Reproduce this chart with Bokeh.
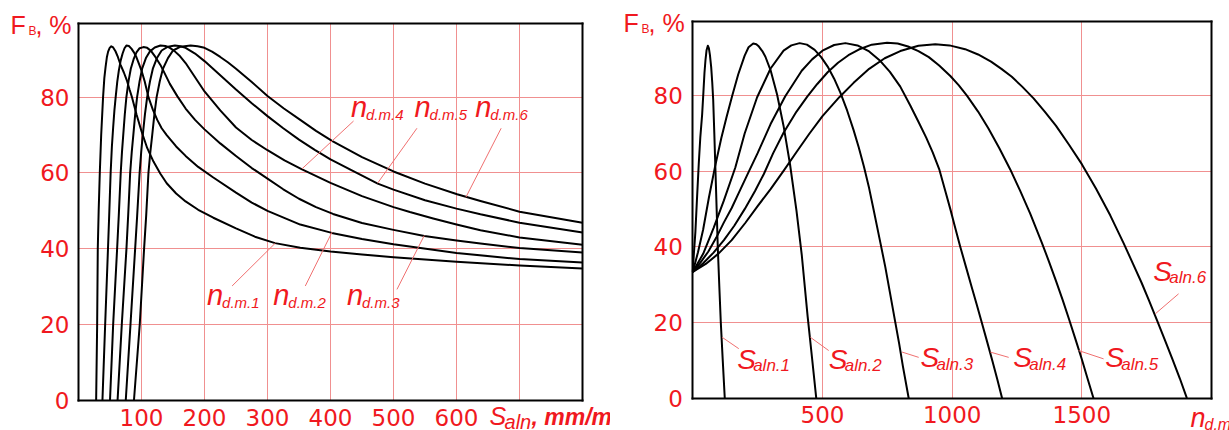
from bokeh.plotting import figure
from bokeh.models import Label, FixedTicker, Range1d, LinearAxis
from bokeh.layouts import row
from bokeh.embed import file_html
from bokeh.resources import INLINE

# ---------------- data: left chart (F_B vs S_aln) ----------------
n1_x = [28, 29.6, 30.6, 32, 33.8, 36, 39, 41, 43, 45, 47, 49.5, 52, 55, 58.7, 62.5, 66.6, 72, 77.2, 81, 85.2, 92, 100, 109, 119, 130, 140, 155, 170, 190, 214, 250, 280, 312, 352, 400, 450, 500, 600, 700, 800]
n1_y = [0, 20, 40, 50, 60, 70, 80, 85, 88, 90.5, 92, 93, 93.4, 93.1, 92.1, 90.6, 88.6, 86.5, 84.2, 82, 79.8, 75.5, 71, 66.6, 63, 59.8, 57.3, 54.6, 52.5, 50.3, 48.2, 45.4, 43.2, 41.5, 40.3, 39.3, 38.5, 37.8, 36.6, 35.6, 34.8]
n2_x = [38, 42.3, 46.8, 48.7, 51, 53, 55, 57, 59, 61.5, 64, 67, 70, 73, 76, 80, 84, 88, 92, 96, 100, 105, 111, 118, 125, 132, 140, 155, 170, 190, 214, 250, 275, 300, 352, 402, 450, 500, 600, 700, 800]
n2_y = [0, 20, 40, 48.7, 60, 67, 72, 76.5, 80, 84, 87, 89.7, 91.5, 92.9, 93.6, 93.5, 92.8, 91.8, 90.5, 88.8, 87, 84.2, 80, 76.7, 74, 71.8, 70, 67, 64.5, 61.6, 58.8, 54.8, 52.2, 50, 46.4, 44.2, 42.6, 41.2, 38.9, 37.3, 36.4]
n3_x = [50, 55, 61.3, 63.9, 67, 69, 71, 73.5, 76, 79.5, 83, 87.5, 92, 97, 103, 109, 115, 122, 130, 137, 145, 157, 170, 185, 200, 225, 250, 275, 300, 325, 350, 377, 404, 450, 500, 549, 600, 638, 700, 800]
n3_y = [0, 20, 40, 48.7, 60, 65.5, 70, 75.5, 80, 84.3, 87.5, 90, 91.8, 92.9, 93.2, 93, 92.2, 90.6, 88.5, 86.2, 83.5, 80.2, 77, 74, 71.5, 67.8, 64.5, 61.3, 58.5, 55.7, 53.2, 51, 49.2, 46.8, 45, 43.4, 42.2, 41.4, 40.2, 39.0]
n4_x = [62, 68.7, 76.1, 78.8, 82, 84.5, 87, 90, 93, 97, 101, 107, 113, 121, 130, 138, 145, 152, 160, 170, 180, 190, 200, 225, 250, 275, 300, 327, 354, 400, 450, 500, 526, 563, 600, 638, 700, 800]
n4_y = [0, 20, 40, 48.7, 60, 65.5, 70, 75.5, 80, 84.2, 87.5, 90.3, 92, 93.1, 93.6, 93.5, 93, 92.2, 91, 89, 86.5, 84, 81.5, 76.5, 72, 68.7, 66, 63.3, 61, 57.4, 53.9, 51, 49.7, 48, 46.4, 44.9, 43, 41.1]
n5_x = [75, 82.5, 89.9, 93.1, 97, 99.5, 102, 105.5, 109, 113.5, 118, 124.5, 132, 142, 153, 162, 170, 185, 200, 225, 250, 275, 300, 325, 350, 375, 400, 437, 475, 500, 550, 600, 638, 700, 800]
n5_y = [0, 20, 40, 48.7, 60, 65.5, 70, 75.5, 80, 84.2, 87.5, 90.3, 92.3, 93.3, 93.6, 93.4, 93, 91.5, 89.5, 85.8, 82, 78.4, 75, 71.8, 68.8, 66.1, 63.6, 60.4, 57.2, 55.6, 52.8, 50.6, 49.1, 46.9, 44.3]
n6_x = [88, 97.2, 104.1, 107.4, 111, 114, 117, 120.5, 124, 129, 134, 142, 150, 162, 178, 189, 200, 212, 225, 237, 250, 275, 300, 326, 352, 377, 403, 450, 500, 550, 601, 638, 700, 800]
n6_y = [0, 20, 40, 48.7, 60, 65.5, 70, 75.5, 80, 84.2, 87.5, 90.3, 92.3, 93.3, 93.6, 93.4, 93, 92, 90.6, 89.2, 87.5, 84, 80.3, 77, 74, 71.1, 68.4, 64.2, 60.4, 57.2, 54.4, 52.6, 49.8, 46.9]
left_series = [(n1_x, n1_y), (n2_x, n2_y), (n3_x, n3_y), (n4_x, n4_y), (n5_x, n5_y), (n6_x, n6_y)]
left_xticks = [100, 200, 300, 400, 500, 600, 700]
left_xlabels = ["100", "200", "300", "400", "500", "600", ""]
yticks = [0, 20, 40, 60, 80]
left_names = ["d.m.1", "d.m.2", "d.m.3", "d.m.4", "d.m.5", "d.m.6"]

# ---------------- data: right chart (F_B vs n_d.m) ----------------
s1_x = [0, 4, 10, 16, 23, 29, 36, 41, 45, 49, 53, 58, 62, 66, 71, 75, 78.6, 83, 87.5, 92, 96.3, 102, 108, 115.5, 123.3]
s1_y = [33.4, 38, 44, 52.5, 62, 69, 75, 81, 86, 89.5, 92, 93.2, 92.6, 90.8, 87.5, 83.5, 79, 70, 60, 50, 40, 30, 20, 10, 0]
s2_x = [0, 20, 40, 62, 86, 110, 130, 152, 175, 200, 215, 233, 245, 255, 268, 280, 300, 325, 350, 375, 400, 420, 443, 460, 476]
s2_y = [33.4, 38.6, 44.6, 53, 61.3, 68.8, 74.3, 80, 85.6, 90.6, 92.8, 93.8, 93.6, 93, 91.8, 90.3, 86.7, 80.3, 72, 61.8, 49.5, 38, 21.5, 10.5, 0]
s3_x = [0, 40, 80, 120, 164, 200, 248, 300, 350, 380, 412, 440, 470, 495, 520, 545, 569, 595, 620, 640, 660, 680, 697, 723, 742, 760, 781, 796, 810, 832.5]
s3_y = [33.4, 38.2, 45, 52.3, 61, 70, 79.6, 87.2, 91.9, 93.3, 93.9, 93.5, 92.1, 90.2, 87.7, 84.5, 80.8, 76.1, 70.9, 66.3, 61.2, 55.5, 49.9, 41.2, 34.8, 28, 20, 14.3, 8.5, 0]
s4_x = [0, 30, 60, 90, 120, 150, 180, 215, 250, 300, 356, 420, 460, 500, 545, 588.5, 635, 680, 720, 760, 800, 838.6, 870, 900, 925, 950, 972, 993, 1012, 1031.5, 1053, 1075, 1095, 1115, 1135, 1155, 1174, 1192.6]
s4_y = [33.4, 35.9, 38.8, 42.4, 46.5, 50.3, 54.7, 59.8, 64.8, 72.5, 79.8, 86.6, 89.6, 91.9, 93.4, 93.9, 93.3, 91.7, 89.4, 86.3, 82.4, 77.4, 73.1, 68.9, 65, 60.6, 55.2, 50, 45, 40, 34.8, 29.5, 24.7, 19.8, 14.9, 9.9, 5, 0]
s5_x = [0, 40, 80, 120, 160, 200, 240, 274, 310, 350, 400, 442, 480, 520, 560, 600, 640, 690, 749, 790, 830, 870, 910, 950, 993, 1025, 1057, 1100, 1140, 1182, 1224, 1262, 1301, 1346, 1373, 1400, 1426, 1452, 1476, 1500, 1522, 1545]
s5_y = [33.4, 35.7, 38.5, 41.8, 45.6, 50, 54.8, 59.3, 64.8, 70.2, 75.8, 79.8, 83.1, 86.2, 88.7, 90.7, 92.2, 93.5, 94, 93.8, 93, 91.8, 90.2, 88, 85.2, 82.8, 80, 75.8, 71.3, 66.1, 60.5, 54.9, 48.8, 41.1, 36.2, 31.1, 26, 20.6, 15.5, 10.3, 5.2, 0]
s6_x = [0, 50, 100, 150, 203, 250, 300, 352, 400, 450, 500, 565, 620, 680, 740, 800, 870, 935, 990, 1050, 1100, 1150, 1190, 1230, 1270, 1314, 1357, 1400, 1450, 1500, 1555, 1610, 1661, 1697, 1730, 1760, 1790, 1820, 1850, 1878, 1905]
s6_y = [33.4, 35.5, 38.3, 41.8, 46.4, 50.8, 55.3, 60.3, 65.1, 70, 74.6, 79.6, 83.4, 87.1, 89.9, 91.8, 93.2, 93.6, 93.3, 92.3, 90.9, 89, 87.1, 85, 82.4, 79.3, 75.8, 72.1, 67.1, 61.9, 55.4, 48.3, 41, 35.6, 30.6, 25.7, 20.6, 15.4, 10.2, 5.2, 0]
right_series = [(s1_x, s1_y), (s2_x, s2_y), (s3_x, s3_y), (s4_x, s4_y), (s5_x, s5_y), (s6_x, s6_y)]
right_xticks = [500, 1000, 1500]
right_xlabels = ["500", "1000", "1500"]
right_names = ["aln.1", "aln.2", "aln.3", "aln.4", "aln.5", "aln.6"]

# ---------------- annotation placement (labels and leader lines) ----------------
left_lbl_x = [204.1, 309.3, 426.2, 432.5, 533.4, 629.7]
left_lbl_y = [25.1, 25.1, 25.1, 74.7, 74.7, 74.7]
left_lead_x0 = [243.8, 360.0, 505.5, 436.6, 537.2, 670.9]
left_lead_y0 = [30.2, 30.2, 29.3, 73.7, 71.8, 71.8]
left_lead_x1 = [312.4, 402.4, 548.8, 354.8, 474.7, 614.9]
left_lead_y1 = [41.5, 44.4, 43.5, 61.1, 57.3, 53.6]

right_lbl_x = [171.1, 524.1, 877.5, 1235.9, 1590.4, 1775.3]
right_lbl_y = [7.8, 7.8, 8.2, 8.2, 8.2, 31.1]
right_lead_x0 = [113.3, 453.6, 807.0, 1147.0, 1487.5, 1783.0]
right_lead_y0 = [16.1, 16.1, 12.2, 12.2, 12.6, 22.3]
right_lead_x1 = [177.3, 524.0, 871.0, 1218.0, 1584.0, 1873.0]
right_lead_y1 = [13.1, 12.6, 10.8, 10.8, 10.4, 27.6]

RED = "#f01820"
LEAD = "#f07070"
GRID = "#f09090"
FONT = "Liberation Sans"
TICK_FONT = "DejaVu Sans"
BASELINE_FIX = 0.34   # em, measured shift of the rendered alphabetic baseline


def label(p, x, y, text, size, yscale, style="normal", dx=0):
    y_adj = y + BASELINE_FIX * size / yscale
    p.add_layout(Label(x=x, y=y_adj, text=text, text_font=FONT,
                       text_font_size=f"{size}px", text_font_style=style, text_color=RED,
                       x_offset=dx, text_align="left", text_baseline="alphabetic"))


def make_chart(width, xr, yr, xmax, ymax, xticks, xlabels, ystandoff):
    p = figure(width=width, height=430, x_range=Range1d(*xr), y_range=Range1d(*yr),
               output_backend="svg", toolbar_location=None,
               min_border_left=0, min_border_right=0, min_border_top=0, min_border_bottom=0)
    p.background_fill_color = "white"
    p.border_fill_color = "white"
    p.outline_line_color = None
    xa = p.below[0]
    ya = p.left[0]
    # axes pinned to the chart box
    xa.fixed_location = 0
    xa.bounds = (0, xmax)
    ya.fixed_location = 0
    ya.bounds = (0, ymax)
    xa.ticker = FixedTicker(ticks=xticks)
    xa.major_label_overrides = {t: l for t, l in zip(xticks, xlabels)}
    ya.ticker = FixedTicker(ticks=yticks)
    top = LinearAxis(fixed_location=ymax, bounds=(0, xmax), ticker=FixedTicker(ticks=[]))
    right = LinearAxis(fixed_location=xmax, bounds=(0, ymax), ticker=FixedTicker(ticks=[]))
    p.add_layout(top, "above")
    p.add_layout(right, "right")
    for ax in (xa, ya, top, right):
        ax.axis_line_color = "black"
        ax.axis_line_width = 2
        ax.axis_line_cap = "square"
        ax.major_tick_line_color = None
        ax.minor_tick_line_color = None
        ax.major_label_text_color = RED
        ax.major_label_text_font = TICK_FONT
        ax.major_label_text_font_size = "23px"
    xa.major_label_standoff = 2
    ya.major_label_standoff = ystandoff
    # grid limited to the chart box
    p.xgrid.ticker = FixedTicker(ticks=xticks)
    p.ygrid.ticker = FixedTicker(ticks=[20, 40, 60, 80])
    p.xgrid.cross_bounds = (0, ymax)
    p.ygrid.cross_bounds = (0, xmax)
    for g in (p.xgrid, p.ygrid):
        g.grid_line_color = GRID
        g.grid_line_width = 1
    return p


# ---------------- left figure ----------------
YS1 = 3.792
p1 = make_chart(610, (-123.81, 844.44), (-7.911, 105.486), 800, 99.5,
                left_xticks, left_xlabels, 3)
for xs, ys in left_series:
    p1.line(xs, ys, line_color="black", line_width=2, line_join="round")
p1.segment(left_lead_x0, left_lead_y0, left_lead_x1, left_lead_y1, line_color=LEAD, line_width=1)
for x, y, nm in zip(left_lbl_x, left_lbl_y, left_names):
    label(p1, x, y, "n", 29, YS1, "italic")
    label(p1, x, y - 0.5, nm, 15, YS1, "italic", dx=15)
label(p1, -107.9, 96.8, "F", 25, YS1)
label(p1, -79.4, 96.3, "B", 12, YS1)
label(p1, -68.3, 96.8, ", %", 25, YS1)
label(p1, 652.4, -6.33, "S", 25, YS1, "italic")
label(p1, 676.2, -7.38, "aln", 20, YS1, "italic")
label(p1, 719.0, -6.33, ", mm/m", 23, YS1, "bold italic")

# ---------------- right figure ----------------
YS2 = 3.7813
p2 = make_chart(619, (-317.3, 2069.4), (-8.542, 105.174), 2000, 99.7,
                right_xticks, right_xlabels, 4)
for xs, ys in right_series:
    p2.line(xs, ys, line_color="black", line_width=2, line_join="round")
p2.segment(right_lead_x0, right_lead_y0, right_lead_x1, right_lead_y1, line_color=LEAD, line_width=1)
for x, y, nm in zip(right_lbl_x, right_lbl_y, right_names):
    label(p2, x, y, "S", 28, YS2, "italic")
    label(p2, x, y - 0.8, nm, 17, YS2, "italic", dx=16)
label(p2, -267.2, 96.98, "F", 25, YS2)
label(p2, -197.8, 96.45, "B", 12, YS2)
label(p2, -170.8, 96.98, ", %", 25, YS2)
label(p2, 1919.0, -7.75, "n", 27, YS2, "italic")
label(p2, 1973.0, -8.28, "d.m", 16, YS2, "italic")

layout = row(p1, p2, spacing=0)
open("out.html", "w").write(file_html(layout, INLINE))
